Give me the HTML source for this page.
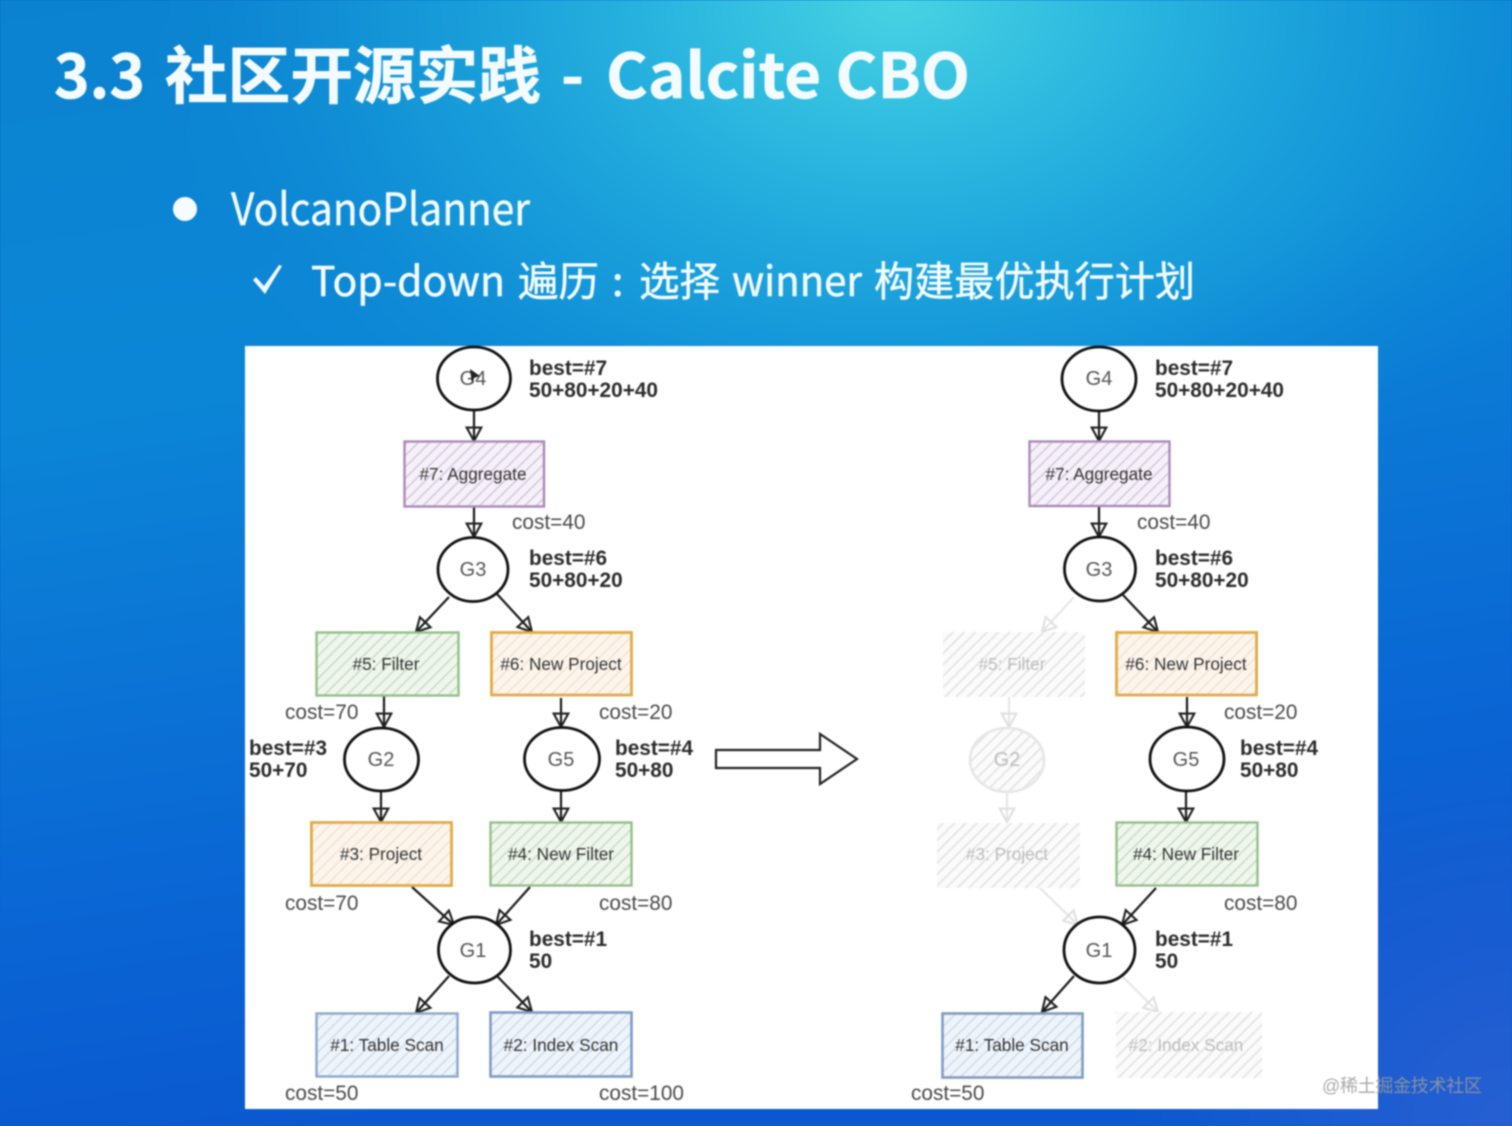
<!DOCTYPE html>
<html><head><meta charset="utf-8"><style>
html,body{margin:0;padding:0;width:1512px;height:1126px;overflow:hidden;background:#0a62cf}
svg{display:block;filter:blur(.7px)}
text{font-family:"Liberation Sans","Noto Sans CJK SC",sans-serif}
.h{font-family:"Noto Sans CJK SC","Liberation Sans",sans-serif;fill:#f4fbff}
.t{font-size:62px;font-weight:700;stroke:#f4fbff;stroke-width:.6px}
.s{font-size:41px;stroke:#f4fbff;stroke-width:.5px}
.b{font-size:20.8px;font-weight:700;fill:#2c2c2c}
.c{font-size:20.8px;fill:#4a4a4a;transform:translateY(1px)}
.g{font-size:20px;fill:#555;text-anchor:middle}
.n{font-size:17.2px;fill:#333;text-anchor:middle;transform:translateY(1px)}
.k{fill:#fff;stroke:#111;stroke-width:2.8}
.l{fill:none;stroke:#1a1a1a;stroke-width:2.2}
.fl{fill:none;stroke:#e4e4e4;stroke-width:2}
</style></head><body>
<svg width="1512" height="1126" viewBox="0 0 1512 1126" xmlns="http://www.w3.org/2000/svg">
<defs>
<linearGradient id="base" x1="0" y1="0" x2="0.2" y2="1">
<stop offset="0" stop-color="#0b82cf"/><stop offset=".35" stop-color="#0b86d6"/><stop offset=".75" stop-color="#0a68d4"/><stop offset="1" stop-color="#0a58cf"/>
</linearGradient>
<radialGradient id="glow" gradientUnits="userSpaceOnUse" cx="0" cy="0" r="1" gradientTransform="translate(900 0) scale(780 560)">
<stop offset="0" stop-color="#48d3e2"/><stop offset=".3" stop-color="#2dbbe0" stop-opacity=".9"/><stop offset=".65" stop-color="#1ca6dc" stop-opacity=".55"/><stop offset="1" stop-color="#0d86d4" stop-opacity="0"/>
</radialGradient>
<radialGradient id="cr" gradientUnits="userSpaceOnUse" cx="1512" cy="1126" r="380">
<stop offset="0" stop-color="#2a60d2" stop-opacity=".9"/><stop offset="1" stop-color="#2a60d2" stop-opacity="0"/>
</radialGradient>
<pattern id="pp" width="8" height="8" patternUnits="userSpaceOnUse" patternTransform="rotate(-45)"><rect width="8" height="8" fill="#f6f1f9"/><rect width="8" height="1.5" fill="#d5c5de"/></pattern>
<pattern id="pg" width="8" height="8" patternUnits="userSpaceOnUse" patternTransform="rotate(-45)"><rect width="8" height="8" fill="#f0f6ee"/><rect width="8" height="1.5" fill="#c6ddc0"/></pattern>
<pattern id="po" width="8" height="8" patternUnits="userSpaceOnUse" patternTransform="rotate(-45)"><rect width="8" height="8" fill="#fcf5ed"/><rect width="8" height="1.5" fill="#f2e2cf"/></pattern>
<pattern id="pb" width="8" height="8" patternUnits="userSpaceOnUse" patternTransform="rotate(-45)"><rect width="8" height="8" fill="#eff4fa"/><rect width="8" height="1.5" fill="#cddbea"/></pattern>
<pattern id="px" width="8" height="8" patternUnits="userSpaceOnUse" patternTransform="rotate(-45)"><rect width="8" height="8" fill="#fbfbfb"/><rect width="8" height="1.8" fill="#e4e4e4"/></pattern>
<marker id="a" markerUnits="userSpaceOnUse" markerWidth="18" markerHeight="18" refX="13" refY="8" orient="auto" viewBox="0 0 16 16"><path d="M1,1.5 L13,8 L1,14.5 Z" fill="none" stroke="#222" stroke-width="1.900"/></marker>
<marker id="ag" markerUnits="userSpaceOnUse" markerWidth="18" markerHeight="18" refX="13" refY="8" orient="auto" viewBox="0 0 16 16"><path d="M1,1.5 L13,8 L1,14.5 Z" fill="none" stroke="#e0e0e0" stroke-width="1.900"/></marker>
</defs>
<rect width="1512" height="1126" fill="url(#base)"/>
<rect width="1512" height="1126" fill="url(#glow)"/>
<rect width="1512" height="1126" fill="url(#cr)"/>

<text class="h t" x="54" y="98" textLength="91" lengthAdjust="spacingAndGlyphs">3.3</text>
<text class="h t" x="165" y="98" textLength="376" lengthAdjust="spacingAndGlyphs">社区开源实践</text>
<text class="h t" x="561" y="98">-</text>
<text class="h t" x="606" y="98" textLength="364" lengthAdjust="spacingAndGlyphs">Calcite CBO</text>
<circle cx="185" cy="209" r="12" fill="#f6fbff"/>
<text class="h" x="231" y="225" font-size="44" textLength="299" lengthAdjust="spacingAndGlyphs" stroke="#f4fbff" stroke-width=".4">VolcanoPlanner</text>
<path d="M253,280 L256,277 L264,286 L279,265 L282,266 L265,294 Z" fill="#eef8fd"/>
<text class="h s" x="311" y="296" textLength="194" lengthAdjust="spacingAndGlyphs">Top-down</text>
<text class="h s" x="518" y="296" textLength="81" lengthAdjust="spacingAndGlyphs">遍历</text>
<text class="h s" x="612" y="296">:</text>
<text class="h s" x="639" y="296" textLength="81" lengthAdjust="spacingAndGlyphs">选择</text>
<text class="h s" x="732" y="296" textLength="130" lengthAdjust="spacingAndGlyphs">winner</text>
<text class="h s" x="874" y="296" textLength="321" lengthAdjust="spacingAndGlyphs">构建最优执行计划</text>

<rect x="245" y="346" width="1133" height="763" fill="#fff"/>

<!-- LEFT -->
<g>
<path class="l" d="M474,409 V441" marker-end="url(#a)"/>
<path class="l" d="M474,507 V537" marker-end="url(#a)"/>
<path class="l" d="M449,597 L416,632" marker-end="url(#a)"/>
<path class="l" d="M497,594 L532,632" marker-end="url(#a)"/>
<path class="l" d="M384,696 V727" marker-end="url(#a)"/>
<path class="l" d="M561,698 V727" marker-end="url(#a)"/>
<path class="l" d="M381,791 V822" marker-end="url(#a)"/>
<path class="l" d="M561,791 V822" marker-end="url(#a)"/>
<path class="l" d="M412,887 L454,925" marker-end="url(#a)"/>
<path class="l" d="M530,887 L496,925" marker-end="url(#a)"/>
<path class="l" d="M449,976 L416,1013" marker-end="url(#a)"/>
<path class="l" d="M497,976 L532,1012" marker-end="url(#a)"/>

<ellipse class="k" cx="474" cy="378.500" rx="36.500" ry="31.500"/>
<text class="g" x="473" y="385">G4</text>
<path d="M470,369 L480,376 L474,378 L472,384 Z" fill="#222"/>
<ellipse class="k" cx="473" cy="569.500" rx="35" ry="32"/><text class="g" x="473" y="576">G3</text>
<ellipse class="k" cx="381.500" cy="759.500" rx="37" ry="31.500"/><text class="g" x="381" y="766">G2</text>
<ellipse class="k" cx="562" cy="759" rx="37.500" ry="31.500"/><text class="g" x="561" y="766">G5</text>
<ellipse class="k" cx="474.500" cy="950" rx="36" ry="33"/><text class="g" x="473" y="957">G1</text>

<rect x="404.500" y="441.500" width="139.500" height="65" fill="url(#pp)" stroke="#a98bb8" stroke-width="2.400"/><text class="n" x="473" y="479">#7: Aggregate</text>
<rect x="316.500" y="632.500" width="142" height="63" fill="url(#pg)" stroke="#93c088" stroke-width="2.400"/><text class="n" x="386" y="669">#5: Filter</text>
<rect x="491.500" y="632.500" width="140" height="62.500" fill="url(#po)" stroke="#e2ab44" stroke-width="2.800"/><text class="n" x="561" y="669">#6: New Project</text>
<rect x="311.500" y="822.500" width="140" height="63" fill="url(#po)" stroke="#e2ab44" stroke-width="2.800"/><text class="n" x="381" y="859">#3: Project</text>
<rect x="490.500" y="822.500" width="141" height="63" fill="url(#pg)" stroke="#93c088" stroke-width="2.400"/><text class="n" x="561" y="859">#4: New Filter</text>
<rect x="316.500" y="1013.500" width="141" height="63" fill="url(#pb)" stroke="#8aa8cc" stroke-width="2.400"/><text class="n" x="387" y="1050">#1: Table Scan</text>
<rect x="490.500" y="1012.500" width="141" height="64" fill="url(#pb)" stroke="#7f9cc2" stroke-width="2.600"/><text class="n" x="561" y="1050">#2: Index Scan</text>

<text class="b" x="529" y="375">best=#7</text><text class="b" x="529" y="397">50+80+20+40</text>
<text class="c" x="512" y="528">cost=40</text>
<text class="b" x="529" y="565">best=#6</text><text class="b" x="529" y="587">50+80+20</text>
<text class="c" x="285" y="718">cost=70</text>
<text class="c" x="599" y="718">cost=20</text>
<text class="b" x="249" y="755">best=#3</text><text class="b" x="249" y="777">50+70</text>
<text class="b" x="615" y="755">best=#4</text><text class="b" x="615" y="777">50+80</text>
<text class="c" x="285" y="909">cost=70</text>
<text class="c" x="599" y="909">cost=80</text>
<text class="b" x="529" y="946">best=#1</text><text class="b" x="529" y="968">50</text>
<text class="c" x="285" y="1099">cost=50</text>
<text class="c" x="599" y="1099">cost=100</text>
</g>

<!-- big arrow -->
<path d="M716,750 H820 V734 L857,759 L820,784 V768 H716 Z" fill="#fff" stroke="#222" stroke-width="2.200"/>

<!-- RIGHT -->
<g>
<path class="fl" d="M1074,597 L1042,632" marker-end="url(#ag)"/>
<path class="fl" d="M1009,697 V727" marker-end="url(#ag)"/>
<path class="fl" d="M1007,793 V822" marker-end="url(#ag)"/>
<path class="fl" d="M1038,886 L1078,925" marker-end="url(#ag)"/>
<path class="fl" d="M1122,976 L1158,1012" marker-end="url(#ag)"/>

<path class="l" d="M1099,409 V441" marker-end="url(#a)"/>
<path class="l" d="M1099,507 V537" marker-end="url(#a)"/>
<path class="l" d="M1123,595 L1158,632" marker-end="url(#a)"/>
<path class="l" d="M1187,697 V727" marker-end="url(#a)"/>
<path class="l" d="M1186,791 V822" marker-end="url(#a)"/>
<path class="l" d="M1156,888 L1122,925" stroke-width="2.600" marker-end="url(#a)"/>
<path class="l" d="M1074,976 L1042,1012" stroke-width="2.600" marker-end="url(#a)"/>

<ellipse class="k" cx="1099" cy="379" rx="37" ry="32"/><text class="g" x="1099" y="385">G4</text>
<ellipse class="k" cx="1100" cy="569" rx="35.500" ry="32"/><text class="g" x="1099" y="576">G3</text>
<ellipse cx="1007" cy="760" rx="37" ry="32" fill="url(#px)" stroke="#e6e6e6" stroke-width="2.500"/><text class="g" x="1007" y="766" style="fill:#bdbdbd">G2</text>
<ellipse class="k" cx="1187" cy="759" rx="37" ry="32"/><text class="g" x="1186" y="766">G5</text>
<ellipse class="k" cx="1099.500" cy="950" rx="35.500" ry="33"/><text class="g" x="1099" y="957">G1</text>

<rect x="1029.500" y="441.500" width="140" height="64.500" fill="url(#pp)" stroke="#a98bb8" stroke-width="2.400"/><text class="n" x="1099" y="479">#7: Aggregate</text>
<rect x="943" y="632" width="142" height="65" fill="url(#px)"/><text class="n" x="1012" y="669" style="fill:#bcbcbc">#5: Filter</text>
<rect x="1116.500" y="632.500" width="140" height="62.500" fill="url(#po)" stroke="#e2ab44" stroke-width="2.800"/><text class="n" x="1186" y="669">#6: New Project</text>
<rect x="937" y="823" width="143" height="65" fill="url(#px)"/><text class="n" x="1007" y="859" style="fill:#bcbcbc">#3: Project</text>
<rect x="1116.500" y="822.500" width="141" height="63" fill="url(#pg)" stroke="#93c088" stroke-width="2.400"/><text class="n" x="1186" y="859">#4: New Filter</text>
<rect x="942.500" y="1013.500" width="140" height="64" fill="url(#pb)" stroke="#7f9cc2" stroke-width="2.600"/><text class="n" x="1012" y="1050">#1: Table Scan</text>
<rect x="1116" y="1012" width="146" height="66" fill="url(#px)"/><text class="n" x="1186" y="1050" style="fill:#bcbcbc">#2: Index Scan</text>

<text class="b" x="1155" y="375">best=#7</text><text class="b" x="1155" y="397">50+80+20+40</text>
<text class="c" x="1137" y="528">cost=40</text>
<text class="b" x="1155" y="565">best=#6</text><text class="b" x="1155" y="587">50+80+20</text>
<text class="c" x="1224" y="718">cost=20</text>
<text class="b" x="1240" y="755">best=#4</text><text class="b" x="1240" y="777">50+80</text>
<text class="c" x="1224" y="909">cost=80</text>
<text class="b" x="1155" y="946">best=#1</text><text class="b" x="1155" y="968">50</text>
<text class="c" x="911" y="1099">cost=50</text>
</g>

<text x="1322" y="1092" font-size="18" fill="#9a9a9a" fill-opacity=".85" textLength="160" lengthAdjust="spacing">@稀土掘金技术社区</text>
</svg>
</body></html>
